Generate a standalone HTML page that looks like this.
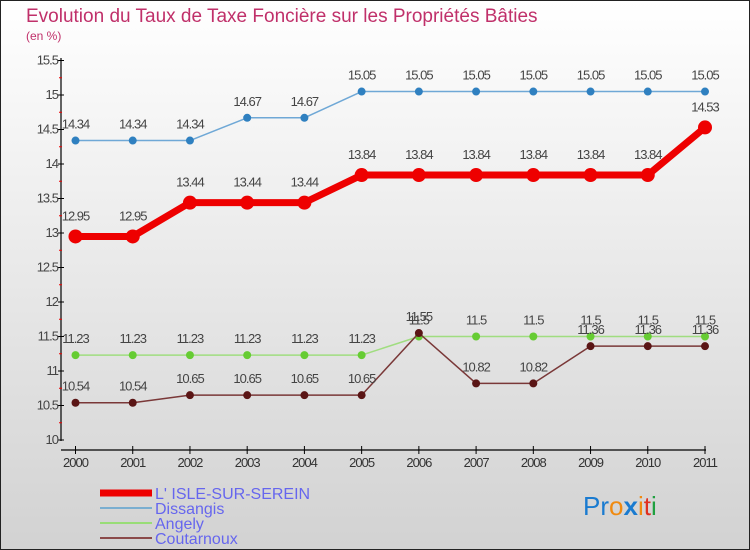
<!DOCTYPE html>
<html><head><meta charset="utf-8"><style>
body{margin:0}
#c{width:750px;height:550px;position:relative;box-sizing:border-box;border:1px solid #222;background:linear-gradient(#ffffff,#d2d2d2);font-family:"Liberation Sans",sans-serif;overflow:hidden}
</style></head><body>
<div id="c">
<svg width="748" height="548" viewBox="1 1 748 548" id="s">
<text x="26" y="22" font-size="19" fill="#c0306a">Evolution du Taux de Taxe Foncière sur les Propriétés Bâties</text>
<text x="26" y="40" font-size="12" fill="#c0306a">(en %)</text>
<g id="axes"></g><g id="series"></g>
<g>
<line x1="100" y1="493" x2="152" y2="493" stroke="#e00" stroke-width="7"/>
<text x="155" y="499" font-size="16" fill="#6666ee">L' ISLE-SUR-SEREIN</text>
<line x1="100" y1="508" x2="152" y2="508" stroke="#7aaed0" stroke-width="2"/>
<text x="155" y="514" font-size="16" fill="#6666ee">Dissangis</text>
<line x1="100" y1="523" x2="152" y2="523" stroke="#99dd77" stroke-width="2"/>
<text x="155" y="529" font-size="16" fill="#6666ee">Angely</text>
<line x1="100" y1="538" x2="152" y2="538" stroke="#8b4a4a" stroke-width="2"/>
<text x="155" y="544" font-size="16" fill="#6666ee">Coutarnoux</text>
</g>
<g font-size="26" font-family="'Liberation Sans',sans-serif">
<text x="583" y="515"><tspan fill="#1a7bd0">Pr</tspan><tspan fill="#f08a10">o</tspan><tspan fill="#1a7bd0" font-weight="bold">x</tspan><tspan fill="#f08a10">i</tspan><tspan fill="#e03020">t</tspan><tspan fill="#20a040">i</tspan></text>
</g>
</svg>
</div>
<script>
const years=[2000,2001,2002,2003,2004,2005,2006,2007,2008,2009,2010,2011];
const yTicks=[10,10.5,11,11.5,12,12.5,13,13.5,14,14.5,15,15.5];
const lisle=[12.95,12.95,13.44,13.44,13.44,13.84,13.84,13.84,13.84,13.84,13.84,14.53];
const dissangis=[14.34,14.34,14.34,14.67,14.67,15.05,15.05,15.05,15.05,15.05,15.05,15.05];
const angely=[11.23,11.23,11.23,11.23,11.23,11.23,11.5,11.5,11.5,11.5,11.5,11.5];
const coutarnoux=[10.54,10.54,10.65,10.65,10.65,10.65,11.55,10.82,10.82,11.36,11.36,11.36];
const NS="http://www.w3.org/2000/svg";
function X(i){return 75.5+i*(705-75.5)/(years.length-1);}
function Y(v){return 440-(v-10)*69;}
function mk(t,a,p){const e=document.createElementNS(NS,t);for(const k in a)e.setAttribute(k,a[k]);p.appendChild(e);return e;}
const ax=document.getElementById('axes');
mk('line',{x1:61,y1:58,x2:61,y2:441,stroke:'#000','stroke-width':1.2},ax);
mk('line',{x1:61,y1:450,x2:706,y2:450,stroke:'#000','stroke-width':1.2},ax);
yTicks.forEach(v=>{
 mk('line',{x1:58,y1:Y(v),x2:64,y2:Y(v),stroke:'#000'},ax);
 const t=mk('text',{x:58,y:Y(v)+4,'font-size':13,fill:'#444','text-anchor':'end','letter-spacing':'-1'},ax);t.textContent=v;
 
 
 if(v<15.5)mk('line',{x1:59,y1:Y(v+0.25),x2:62,y2:Y(v+0.25),stroke:'#e00'},ax);
});
years.forEach((yr,i)=>{
 mk('line',{x1:X(i),y1:446,x2:X(i),y2:454,stroke:'#000'},ax);
 const t=mk('text',{x:X(i),y:467,'font-size':13,fill:'#333','text-anchor':'middle','letter-spacing':'-1'},ax);t.textContent=yr;
 
 
});
const sg=document.getElementById('series');
function series(name,vals,col,w,r,fill,dy){
 const g=mk('g',{},sg);
 
 
 mk('polyline',{points:vals.map((v,i)=>X(i)+','+Y(v)).join(' '),fill:'none',stroke:col,'stroke-width':w,'stroke-linejoin':'round'},g);
 vals.forEach((v,i)=>{
  const c=mk('circle',{cx:X(i),cy:Y(v),r:r,fill:fill},g);
  
  
  const t=mk('text',{x:X(i),y:Y(v)+dy,'font-size':13,fill:'#444','text-anchor':'middle','letter-spacing':'-1'},g);t.textContent=v;
  
  
 });
}
series('dissangis',dissangis,'#6fa8d6',1.5,4,'#2f80c0',-12);
series('angely',angely,'#a0dd80',1.5,4,'#66cc33',-12);
series('coutarnoux',coutarnoux,'#7a3838',1.5,4,'#5a1515',-12);
series('lisle',lisle,'#ee0000',7,7,'#ee0000',-16);
</script>
</body></html>
